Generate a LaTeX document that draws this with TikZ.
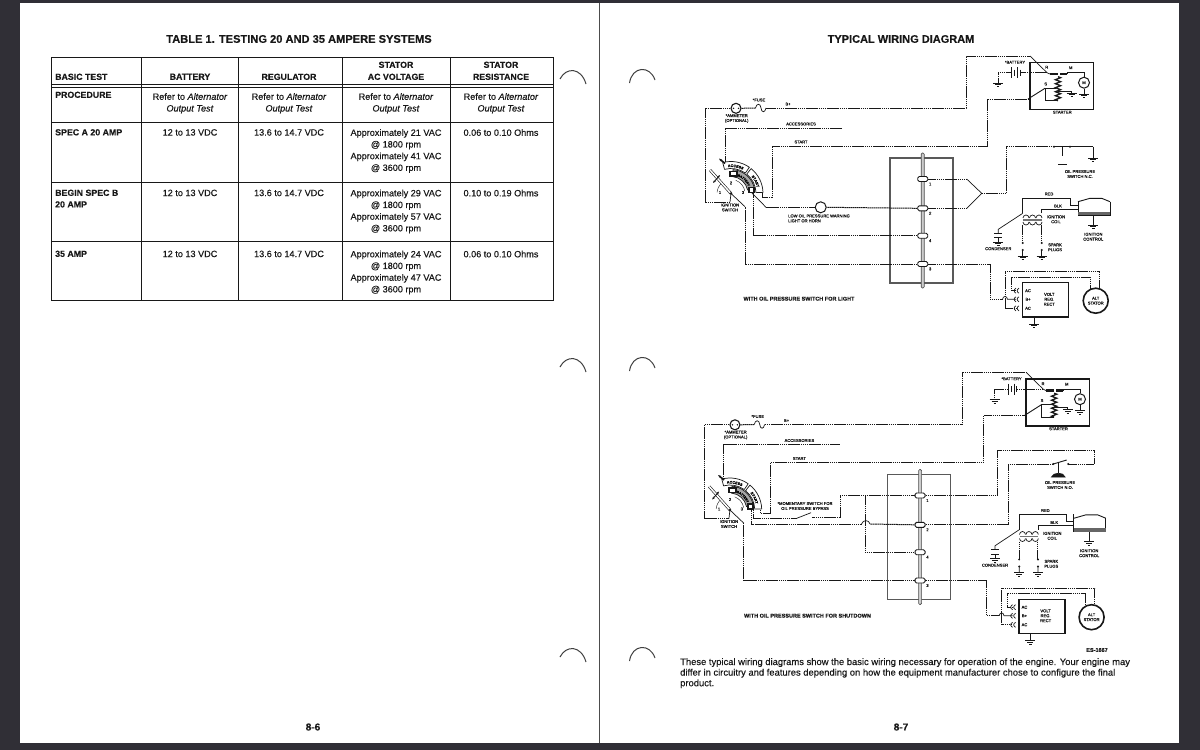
\documentclass[tikz,border=0pt]{standalone}
\usepackage{fontspec}
\setmainfont[FakeBold=.25]{Liberation Sans}
\usepackage{xcolor}
\definecolor{framedark}{RGB}{48,47,54}
\definecolor{inkdark}{RGB}{24,24,24}
\usepackage{tikz}
\usetikzlibrary{arrows.meta}
\usetikzlibrary{positioning,decorations.text,decorations.pathmorphing}

\tikzset{
    wire/.style={draw=inkdark,line width=1pt,dash pattern=on 1.6pt off .5pt},
    lead/.style={draw=inkdark,line width=.7pt},
    heavy/.style={draw=inkdark,line width=1.6pt},
    tabline/.style={draw=inkdark,line width=.8pt},
    ringmark/.style={draw=black!75,line width=1pt},
    partlabel/.style={inner sep=0pt,align=center,text=inkdark,font=\fontsize{4.1}{4.9}\selectfont},
    caption/.style={inner sep=0pt,text=inkdark,font=\fontsize{5.5}{6.5}\selectfont\bfseries},
    headcell/.style={inner sep=0pt,align=center,anchor=north,text=inkdark,font=\fontsize{8.8}{12}\selectfont\bfseries},
    rowcell/.style={inner sep=0pt,align=left,anchor=north west,text=inkdark,font=\fontsize{8.8}{11.6}\selectfont\bfseries},
    datacell/.style={inner sep=0pt,align=center,anchor=north,text=inkdark,font=\fontsize{9.1}{11.7}\selectfont},
    terminal/.style={draw=inkdark,fill=white,line width=.9pt,rounded corners=1.5pt,minimum width=10pt,minimum height=5pt,inner sep=0pt},
    pics/gnd/.style={code={
        \coordinate (-top) at (0,0);
        \draw[lead] (-5,0) -- (5,0);
        \draw[lead] (-3,1.8) -- (3,1.8);
        \draw[lead] (-1.2,3.5) -- (1.2,3.5);
    }},
    pics/plug/.style={code={
        \coordinate (-tip) at (3,0);
        \draw[lead] (0,-2.5) .. controls (-2.5,-1) and (-2.5,1) .. (0,2.5);
        \draw[lead] (3,-2.5) .. controls (.5,-1) and (.5,1) .. (3,2.5);
    }}
}

\begin{document}
\begin{tikzpicture}[x=1pt,y=-1pt]
    \useasboundingbox (0,0) rectangle (1200,750);
    \fill[framedark] (0,0) rectangle (1200,750);
    \fill[white] (20,3) rectangle (1179,743);
    \draw[black!70,line width=1.5pt] (599.5,3) -- (599.5,743);

    % binder holes
    \foreach \holey in {0,288,578}{
        \draw[ringmark] (560,79+\holey) .. controls (566,67+\holey) and (581,67+\holey) .. (586,84+\holey);
        \draw[ringmark] (629.5,83+\holey) .. controls (632,66+\holey) and (650,65+\holey) .. (655,80+\holey);
    }

    % left page, table
    \node[inner sep=0pt,text=inkdark,font=\fontsize{11.1}{13}\selectfont\bfseries] (tabTitle) at (299,39) {TABLE 1. TESTING 20 AND 35 AMPERE SYSTEMS};
    \draw[tabline,line width=1pt] (51,57) rectangle (553,300);
    \foreach \colx in {141,238,342,450}{
        \draw[tabline] (\colx,57) -- (\colx,300);
    }
    \foreach \rowy in {84,87,122,182,241}{
        \draw[tabline] (51,\rowy) -- (553,\rowy);
    }

    \node[rowcell] (hdTest) at (55,73.5) {BASIC TEST};
    \node[headcell] (hdBat) at (190,73.5) {BATTERY};
    \node[headcell] (hdReg) at (289,73.5) {REGULATOR};
    \node[headcell] (hdAc) at (396,61.5) {STATOR\\AC VOLTAGE};
    \node[headcell] (hdRes) at (501,61.5) {STATOR\\RESISTANCE};

    \node[rowcell] (rwProc) at (55,91.5) {PROCEDURE};
    \foreach \cell/\cellx in {bat/190,reg/289,ac/396,res/501}{
        \node[datacell] (proc\cell) at (\cellx,93) {Refer to \emph{Alternator}\\\emph{Output Test}};
    }

    \foreach \rw/\rwy/\rwname/\acone/\actwo/\ohm in {
        spa/129/{SPEC A 20 AMP}/21/41/{0.06 to 0.10 Ohms},
        spb/189.5/{BEGIN SPEC B\\20 AMP}/29/57/{0.10 to 0.19 Ohms},
        amp/250.5/{35 AMP}/24/47/{0.06 to 0.10 Ohms}}{
        \node[rowcell] (\rw Name) at (55,\rwy) {\rwname};
        \node[datacell] (\rw Bat) at (190,\rwy) {12 to 13 VDC};
        \node[datacell] (\rw Reg) at (289,\rwy) {13.6 to 14.7 VDC};
        \node[datacell] (\rw Ac) at (396,\rwy) {Approximately \acone{} VAC\\@ 1800 rpm\\Approximately \actwo{} VAC\\@ 3600 rpm};
        \node[datacell] (\rw Res) at (501,\rwy) {\ohm};
    }

    \node[inner sep=0pt,text=inkdark,font=\fontsize{10}{12}\selectfont\bfseries] (pageSix) at (313,727) {8-6};

    % right page
    \node[inner sep=0pt,text=inkdark,font=\fontsize{11}{13}\selectfont\bfseries] (wiringTitle) at (901,39) {TYPICAL WIRING DIAGRAM};

    % parts both diagrams have
    \foreach \dg/\kx/\sx/\sy in {a/1/0/0,b/.9915/5.2/316.5}{
    \begin{scope}[shift={(\sx,\sy)},xscale=\kx]
        % ignition switch
        \begin{scope}[shift={(731,193.5)}]
            \coordinate (\dg-swc) at (0,0);
            \draw[lead,fill=white] (-105:25) arc[start angle=-105,end angle=-55,radius=25] -- (-55:32) arc[start angle=-55,end angle=-105,radius=32] -- cycle;
            \draw[lead,fill=white] (-51:25) arc[start angle=-51,end angle=-2,radius=25] -- (-2:32) arc[start angle=-2,end angle=-51,radius=32] -- cycle;
            \draw[lead,fill=black!35] (-85:17) arc[start angle=-85,end angle=-12,radius=17] -- (-12:24) arc[start angle=-12,end angle=-85,radius=24] -- cycle;
            \path[decorate,decoration={text along path,text align=center,text={|\fontsize{3.7}{4}\selectfont\bfseries|ACCESS}}] (-105:26.5) arc[start angle=-105,end angle=-55,radius=26.5];
            \path[decorate,decoration={text along path,text align=center,text={|\fontsize{3.7}{4}\selectfont\bfseries|START}}] (-51:26.5) arc[start angle=-51,end angle=-2,radius=26.5];
            \path[decorate,decoration={text along path,text align=center,text={|\fontsize{3.2}{4}\selectfont\bfseries|BATTERY}}] (-80:18.5) arc[start angle=-80,end angle=-12,radius=18.5];
            \draw[heavy,fill=white] (-1,-22) rectangle (6,-17.5);
            \draw[heavy,fill=white] (18,-6) rectangle (23,-1);
            \draw[lead,line width=.4pt] (-175:14) arc[start angle=-175,end angle=-130,radius=14];
            \draw[lead,line width=.4pt] (-70:14) arc[start angle=-70,end angle=-10,radius=14];
            \draw[draw=inkdark,line width=.6pt,double=white,double distance=1.5pt] (-21,-23.5) -- (0,0);
            \fill[inkdark] (0,0) circle (1.4);
            \draw[lead,line width=.9pt,{Stealth[length=3pt]}-{Stealth[length=3pt]}] (-11,-18.5) -- (-18,-10.5);
            \draw[heavy,-{Stealth[length=3pt]}] (-6,-30) -- (-12,-35);
            \node[partlabel] (\dg-posOne) at (-11,-1) {1};
            \node[partlabel] (\dg-posTwo) at (0,-10.5) {2};
            \node[partlabel] (\dg-posThree) at (12,-1) {3};
        \end{scope}
        \node[partlabel] (\dg-swName) at (730,207.5) {IGNITION\\SWITCH};

        % battery line
        \node[circle,draw=inkdark,fill=white,line width=1.1pt,minimum size=10pt,inner sep=0pt] (\dg-amm) at (736,108.3) {};
        \fill[inkdark] (733.5,108.3) circle (.8) (738.5,108.3) circle (.8);
        \coordinate (\dg-fuseL) at (755.5,108);
        \coordinate (\dg-fuseR) at (766,108);
        \coordinate (\dg-swb) at (705,202);
        \coordinate (\dg-swd) at (730,202);
        \coordinate (\dg-batUp) at (966,56);
        \coordinate (\dg-batK) at (1030,56);
        \coordinate (\dg-termR) at (1047,72.7);
        \draw[wire] (\dg-amm.west) -| (\dg-swb) -- (\dg-swd);
        \draw[lead] (\dg-swd) -- (\dg-swc);
        \draw[wire] (\dg-amm.east) -- (\dg-fuseL);
        \draw[lead] (\dg-fuseL) .. controls (756.5,103) and (760.5,103) .. (761,108) .. controls (761.5,113) and (765,113) .. (\dg-fuseR);
        \draw[wire] (\dg-fuseR) -| (\dg-batUp) -- (\dg-batK);
        \draw[lead] (\dg-batK) -- (\dg-termR);
        \node[partlabel] (\dg-fuseName) at (759,100) {*FUSE};
        \node[partlabel] (\dg-bplus) at (788,104) {B+};
        \node[partlabel] (\dg-ammName) at (736.7,118.5) {*AMMETER\\(OPTIONAL)};

        % accessories and start
        \coordinate (\dg-accEnd) at (842,128);
        \coordinate (\dg-accT) at (725,162);
        \draw[wire] (\dg-accEnd) -| (\dg-accT);
        \node[partlabel] (\dg-accName) at (801,124) {ACCESSORIES};
        \coordinate (\dg-stT) at (762,193);
        \coordinate (\dg-stK) at (772,197);
        \coordinate (\dg-stM) at (987,146);
        \coordinate (\dg-stU) at (987,99);
        \coordinate (\dg-stN) at (1028,99);
        \coordinate (\dg-termS) at (1045,88.3);
        \draw[wire] (\dg-stT) |- (\dg-stK) |- (\dg-stM) -- (\dg-stU) -- (\dg-stN);
        \draw[lead,line width=.9pt] (\dg-stN) -- (\dg-termS);
        \node[partlabel] (\dg-startName) at (801,142) {START};

        % terminal bar
        \node[draw=black!65,line width=1.7pt,minimum width=63pt,minimum height=125pt,inner sep=0pt] (\dg-frame) at (921.5,220.5) {};
        \node[draw=black!70,fill=black!20,rounded corners=1.2pt,line width=.6pt,minimum width=3pt,minimum height=135pt,inner sep=0pt] (\dg-bar) at (922.7,220.5) {};
        \foreach \tn/\ty/\tlab in {1/179/1,2/208.3/2,4/235.7/4,3/264/3}{
            \node[terminal] (\dg-t\tn) at (922.7,\ty) {};
            \node[partlabel,below right=2pt and 2pt of \dg-t\tn.south east,anchor=center] (\dg-n\tn) {\tlab};
        }

        % terminal 3 to switch and regulator
        \coordinate (\dg-k3) at (745,206.7);
        \coordinate (\dg-s3) at (990,299.3);
        \coordinate (\dg-humpL) at (1002.5,299.3);
        \coordinate (\dg-humpR) at (1007.5,299.3);
        \draw[wire] (\dg-t3.west) -| (\dg-k3);
        \draw[lead] (\dg-k3) -- (\dg-swc);

        % regulator and stator
        \node[draw=inkdark,line width=.7pt,minimum width=45.6pt,minimum height=34pt,inner sep=0pt] (\dg-reg) at (1045.5,299.7) {};
        \draw[heavy] (\dg-reg.north west) -- (\dg-reg.south west) -- (\dg-reg.south east) -- (\dg-reg.north east);
        \node[partlabel] (\dg-regName) at (1049.3,299.3) {VOLT\\REG.\\RECT};
        \node[partlabel] (\dg-regA) at (1028,290.7) {AC};
        \node[partlabel] (\dg-regB) at (1028,299.3) {B+};
        \node[partlabel] (\dg-regC) at (1028,308.3) {AC};
        \pic (\dg-pgA) at (1016,290.7) {plug};
        \pic (\dg-pgB) at (1016,299.3) {plug};
        \pic (\dg-pgC) at (1016,308.3) {plug};
        \node[circle,draw=inkdark,line width=1.6pt,minimum size=25pt,inner sep=0pt,partlabel] (\dg-stat) at (1095.7,300.7) {ALT\\STATOR};
        \coordinate (\dg-s1) at (1005,271.7);
        \coordinate (\dg-s2) at (1011,277.3);
        \coordinate (\dg-acA) at (1016,290.7);
        \coordinate (\dg-acB) at (1016,299.3);
        \coordinate (\dg-acC) at (1016,308.3);
        \draw[wire] (\dg-stat.75) |- (\dg-s1) |- (\dg-acC);
        \draw[wire] (\dg-stat.115) |- (\dg-s2) |- (\dg-acA);
        \draw[wire] (\dg-t3.east) -| (\dg-s3) -- (\dg-humpL);
        \draw[lead] (\dg-humpL) .. controls (1003,295.5) and (1007,295.5) .. (\dg-humpR) -- (\dg-acB);
        \pic (\dg-gReg) at (1034,324) {gnd};
        \draw[lead] (\dg-reg.south west -| \dg-gReg-top) -- (\dg-gReg-top);

        % starter and battery
        \node[draw=inkdark,line width=1.6pt,minimum width=63.3pt,minimum height=47pt,inner sep=0pt] (\dg-starter) at (1061.7,85.8) {};
        \node[partlabel] (\dg-starterName) at (1062.3,112.3) {STARTER};
        \node[partlabel] (\dg-tR) at (1046.7,67.3) {R};
        \node[partlabel] (\dg-tM) at (1070.7,67.7) {M};
        \node[partlabel] (\dg-tS) at (1045.7,84) {S};
        \node[fill=inkdark,minimum width=8pt,minimum height=2.4pt,inner sep=0pt] (\dg-cA) at (1054,74) {};
        \node[fill=inkdark,minimum width=7.5pt,minimum height=2.4pt,inner sep=0pt] (\dg-cB) at (1063.5,74) {};
        \node[circle,draw=inkdark,line width=1pt,minimum size=11pt,inner sep=0pt,partlabel] (\dg-motor) at (1084,82.7) {M};
        \coordinate (\dg-mk) at (1084,72.7);
        \pic (\dg-gMot) at (1084,94) {gnd};
        \draw[lead] (\dg-cB.east) -- (\dg-cB.east |- \dg-mk) -- (\dg-mk) -- (\dg-motor.north);
        \draw[lead] (\dg-motor.south) -- (\dg-gMot-top);
        \coordinate (\dg-wt) at (1058,76.7);
        \coordinate (\dg-wb) at (1058,100.7);
        \draw[draw=inkdark,line width=1.3pt,decorate,decoration={zigzag,amplitude=2.6pt,segment length=4pt}] (\dg-wt) -- (\dg-wb);
        \coordinate (\dg-sb) at (1045,100.7);
        \coordinate (\dg-sk) at (1055.5,88.3);
        \draw[lead] (\dg-sk) -- (\dg-termS) -- (\dg-sb) -- (\dg-wb);
        \pic (\dg-gWnd) at (1071.7,93) {gnd};
        \coordinate (\dg-wg) at (1058,91);
        \draw[lead] (\dg-wg) -| (\dg-gWnd-top);
        \foreach \platex/\platelen in {1011.7/5.5,1014.6/3,1017.5/5.5,1020.2/3}{
            \draw[lead] (\platex,72.7-\platelen) -- (\platex,72.7+\platelen);
        }
        \coordinate (\dg-batL) at (1011.7,72.7);
        \coordinate (\dg-batR) at (1020.2,72.7);
        \pic (\dg-gBat) at (998,83) {gnd};
        \draw[wire] (\dg-batL) -| (\dg-gBat-top);
        \draw[wire] (\dg-batR) -- (\dg-termR);
        \draw[lead] (\dg-termR) -- (\dg-cA.west);
        \node[partlabel] (\dg-batName) at (1015,62.3) {*BATTERY};

        % coil, condenser, plugs
        \foreach \cx in {1023,1029.5,1036}{
            \draw[lead] (\cx,218) arc[start angle=180,end angle=360,radius=3];
            \draw[lead] (\cx,222) arc[start angle=180,end angle=0,radius=3];
        }
        \draw[black!55,line width=1.6pt] (1023,220) -- (1042,220);
        \coordinate (\dg-coilL) at (1022.7,213.3);
        \coordinate (\dg-coilR) at (1041.7,213.3);
        \coordinate (\dg-redA) at (1022.7,198.3);
        \coordinate (\dg-redB) at (1070,198.3);
        \coordinate (\dg-redC) at (1070,205);
        \coordinate (\dg-blkA) at (1041.7,209.3);
        \draw[lead] (\dg-coilL) -- (\dg-redA) -- (\dg-redB) -- (\dg-redC);
        \draw[lead] (\dg-coilR) -- (\dg-blkA);
        \node[draw=inkdark,line width=.9pt,inner sep=0pt,minimum width=32pt,minimum height=16.7pt] (\dg-ignBox) at (1094,206.7) {};
        \fill[white] (1077.5,197.5) rectangle (1110.5,201.5);
        \draw[lead,line width=.9pt] (1078,201.7) -- (1090,198.3) -- (1101.7,198.3) -- (1110,201.7);
        \fill[black!60] (1078,211.5) rectangle (1110,215);
        \draw[lead] (\dg-redC) -- (\dg-redC -| \dg-ignBox.west);
        \draw[lead] (\dg-blkA) -- (\dg-blkA -| \dg-ignBox.west);
        \pic (\dg-gIgn) at (1093.3,225) {gnd};
        \draw[lead] (\dg-ignBox.south -| \dg-gIgn-top) -- (\dg-gIgn-top);
        \node[partlabel] (\dg-red) at (1049,194) {RED};
        \node[partlabel] (\dg-blk) at (1058,206) {BLK};
        \node[partlabel] (\dg-coilName) at (1056,219.3) {IGNITION\\COIL};
        \node[partlabel] (\dg-ignName) at (1093.3,236.7) {IGNITION\\CONTROL};

        \coordinate (\dg-cnA) at (998.3,229.3);
        \coordinate (\dg-cnB) at (998.3,233);
        \coordinate (\dg-cnC) at (998.3,237.5);
        \draw[lead] (\dg-coilL) -- (\dg-cnA) -- (\dg-cnB);
        \draw[lead,line width=1pt] (994,233) -- (1002,233) (994,237.5) -- (1002,237.5);
        \pic (\dg-gCon) at (998.3,242) {gnd};
        \draw[lead] (\dg-cnC) -- (\dg-gCon-top);
        \node[partlabel] (\dg-conName) at (998.3,248.7) {CONDENSER};

        \foreach \pl/\plx in {p/1022.7,q/1041.7}{
            \coordinate (\dg-\pl T) at (\plx,225);
            \coordinate (\dg-\pl M) at (\plx,243);
            \pic (\dg-\pl G) at (\plx,256) {gnd};
            \draw[wire] (\dg-\pl T) -- (\dg-\pl M);
            \fill[inkdark] (\dg-\pl M) circle (1.1);
            \fill[inkdark] (\plx,250) circle (1.1);
            \draw[lead] (\plx,250) -- (\dg-\pl G-top);
        }
        \node[partlabel] (\dg-plugName) at (1055,247.3) {SPARK\\PLUGS};
    \end{scope}
    }

    % upper diagram
    \node[caption] (a-caption) at (799,298.7) {WITH OIL PRESSURE SWITCH FOR LIGHT};
    \node[circle,draw=inkdark,fill=white,line width=1pt,minimum size=11pt,inner sep=0pt] (a-lamp) at (820.7,207.3) {};
    \coordinate (a-lampK) at (766,207.3);
    \coordinate (a-swL) at (751.7,192.7);
    \coordinate (a-swF) at (753.3,193);
    \coordinate (a-arU) at (966.7,179);
    \coordinate (a-arTip) at (981.7,193.3);
    \coordinate (a-arD) at (966.7,208.3);
    \coordinate (a-oilC) at (1006.7,146.7);
    \coordinate (a-oilL) at (1054,146.7);
    \coordinate (a-oilR) at (1070,146.7);
    \coordinate (a-oilE) at (1093,146.7);
    \draw[wire] (a-t2.west) -- (a-lamp.east);
    \draw[wire] (a-lamp.west) -- (a-lampK);
    \draw[lead] (a-lampK) -- (a-swL);
    \draw[wire] (a-t4.west) -| (a-swF);
    \draw[wire] (a-t1.east) -- (a-arU);
    \draw[wire] (a-t2.east) -- (a-arD);
    \draw[lead] (a-arU) -- (a-arTip) -- (a-arD);
    \draw[wire] (a-arTip) -| (a-oilC) -- (a-oilL);
    \draw[lead] (a-oilL) -- (a-oilR) -- (a-oilE);
    \fill[inkdark] (a-oilL) circle (1.1) (a-oilR) circle (1.1);
    \pic (a-gOil) at (1093,158) {gnd};
    \draw[lead] (a-oilE) -- (a-gOil-top);
    \draw[lead] (1062,147) -- (1062,156);
    \draw[lead,line width=1pt] (1058,164) -- (1067,164);
    \node[partlabel] (a-oilName) at (1080,174) {OIL PRESSURE\\SWITCH N.C.};
    \node[partlabel,align=left,anchor=west] (a-lampName) at (788,218.4) {LOW OIL PRESSURE WARNING\\LIGHT OR HORN};

    % lower diagram
    \node[caption] (b-caption) at (807.5,615.7) {WITH OIL PRESSURE SWITCH FOR SHUTDOWN};
    \coordinate (b-j1) at (865,495);
    \coordinate (b-momK) at (840,517.7);
    \coordinate (b-momR) at (811.7,517.7);
    \coordinate (b-momL) at (796.7,518.3);
    \coordinate (b-momB) at (811,512.7);
    \coordinate (b-swA) at (753.3,518.3);
    \coordinate (b-swAT) at (753.3,510);
    \coordinate (b-swB) at (751.7,524);
    \coordinate (b-swBT) at (751.7,510);
    \coordinate (b-hmpL) at (861.5,524);
    \coordinate (b-hmpR) at (870,524);
    \coordinate (b-oilA) at (997.3,450.7);
    \coordinate (b-oilD) at (1094,450.7);
    \coordinate (b-oilE) at (1094,464);
    \coordinate (b-oilF) at (1068.3,464);
    \coordinate (b-oilB) at (1066.7,460);
    \coordinate (b-oilG) at (1053.3,464);
    \coordinate (b-oilH) at (1008.3,464);
    \draw[wire] (b-t1.west) -| (b-momK) -- (b-momR);
    \draw[lead] (b-momL) -- (b-momB);
    \draw[wire] (b-momL) -- (b-swA) -- (b-swAT);
    \draw[wire] (b-j1) |- (b-t4.west);
    \draw[wire] (b-t2.west) -- (b-hmpR);
    \draw[lead] (b-hmpR) .. controls (869,519.5) and (863,519.5) .. (b-hmpL);
    \draw[wire] (b-hmpL) -- (b-swB) -- (b-swBT);
    \draw[wire] (b-t1.east) -| (b-oilA) -- (b-oilD) -- (b-oilE) -- (b-oilF);
    \draw[wire] (b-t2.east) -| (b-oilH) -- (b-oilG);
    \draw[lead,line width=.9pt] (b-oilG) -- (b-oilB);
    \fill[inkdark] (b-oilF) circle (1.1) (b-oilG) circle (1.1);
    \draw[lead] (1058.3,463) -- (1058.3,473);
    \draw[lead,fill=inkdark] (1051.5,477) .. controls (1053,472) and (1064,472) .. (1065,477) -- cycle;
    \node[partlabel] (b-oilName) at (1060,485) {OIL PRESSURE\\SWITCH N.O.};
    \node[partlabel] (b-momName) at (805,506) {*MOMENTARY SWITCH FOR\\OIL PRESSURE BYPASS};

    \node[caption] (esCode) at (1097,650) {ES-1667};
    \node[inner sep=0pt,anchor=north west,align=left,text=inkdark,font=\fontsize{9.4}{10.6}\selectfont] (bodyNote) at (680,658) {These typical wiring diagrams show the basic wiring necessary for operation of the engine. Your engine may\\differ in circuitry and features depending on how the equipment manufacturer chose to configure the final\\product.};
    \node[inner sep=0pt,text=inkdark,font=\fontsize{10}{12}\selectfont\bfseries] (pageSeven) at (901,727) {8-7};
\end{tikzpicture}
\end{document}
